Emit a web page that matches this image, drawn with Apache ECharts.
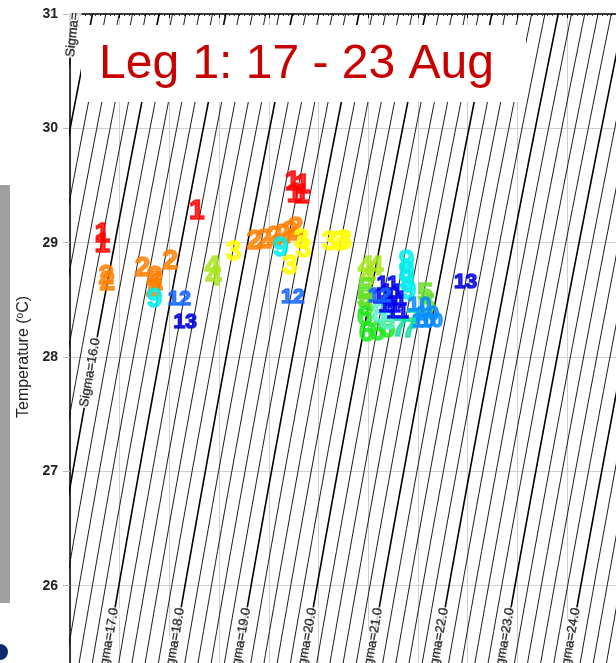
<!DOCTYPE html>
<html>
<head>
<meta charset="utf-8">
<script src="https://cdn.jsdelivr.net/npm/echarts@6/dist/echarts.min.js"></script>
<style>
  html, body { margin: 0; padding: 0; background: #fff; }
  #main { width: 616px; height: 663px; }
</style>
</head>
<body>
<div id="main"></div>
<script>
// station number of each plotted text mark, with its salinity and temperature
const stations = [
  1, 1, 1, 1, 1, 1, 1,
  2, 2, 2, 2, 2, 2, 2, 2, 2, 2, 2, 2, 2,
  3, 3, 3, 3, 3, 3, 3,
  4, 4, 4, 4, 4,
  5, 5, 5, 5, 5,
  6, 6, 6, 6,
  7, 7, 7,
  8, 8,
  9, 9, 9, 9, 9, 9,
  10, 10, 10, 10,
  11, 11, 11, 11, 11, 11,
  12, 12, 12,
  13, 13
];
const salinity = [
  26.66, 26.66, 28.56, 30.49, 30.53, 30.69, 30.67,
  26.74, 26.76, 27.47, 27.71, 27.73, 27.69, 28.03, 29.72, 29.92, 30.12, 30.29, 30.43, 30.55,
  29.30, 30.43, 30.67, 30.71, 31.23, 31.43, 31.53,
  28.88, 28.90, 31.96, 32.16, 32.00,
  31.96, 31.94, 31.96, 33.16, 33.20,
  31.98, 32.20, 32.40, 31.94,
  32.64, 32.84, 32.94,
  32.24, 32.40,
  27.71, 30.25, 32.78, 32.78, 32.78, 32.82,
  33.04, 33.20, 33.28, 33.12,
  32.40, 32.48, 32.56, 32.44, 32.60, 32.32,
  28.21, 30.49, 32.24,
  28.33, 33.97
];
const temperature = [
  29.07, 28.98, 29.27, 29.52, 29.42, 29.50, 29.41,
  28.70, 28.65, 28.77, 28.69, 28.65, 28.60, 28.83, 29.01, 29.02, 29.04, 29.06, 29.09, 29.12,
  28.91, 28.79, 29.02, 28.94, 29.00, 29.00, 29.01,
  28.78, 28.69, 28.78, 28.78, 28.70,
  28.59, 28.50, 28.43, 28.54, 28.45,
  28.20, 28.21, 28.24, 28.34,
  28.25, 28.24, 28.32,
  28.37, 28.31,
  28.50, 28.95, 28.83, 28.74, 28.66, 28.57,
  28.45, 28.37, 28.31, 28.31,
  28.63, 28.56, 28.50, 28.44, 28.39, 28.52,
  28.50, 28.52, 28.53,
  28.30, 28.65
];

// isopycnal (sigma-t) levels drawn behind the data
const sigmaLevels = [
  14.6, 14.8, 15.0, 15.2, 15.4, 15.6, 15.8, 16.0, 16.2, 16.4, 16.6, 16.8,
  17.0, 17.2, 17.4, 17.6, 17.8, 18.0, 18.2, 18.4, 18.6, 18.8,
  19.0, 19.2, 19.4, 19.6, 19.8, 20.0, 20.2, 20.4, 20.6, 20.8,
  21.0, 21.2, 21.4, 21.6, 21.8, 22.0, 22.2, 22.4, 22.6, 22.8,
  23.0, 23.2, 23.4, 23.6, 23.8, 24.0, 24.2, 24.4, 24.6, 24.8, 25.0
];
const labelledLevels = [15, 16, 17, 18, 19, 20, 21, 22, 23, 24];

const stationColors = {
  1: '#ff0000', 2: '#ff8000', 3: '#ffff00', 4: '#a8e61d', 5: '#66e02a',
  6: '#1fe81f', 7: '#12e0a0', 8: '#5ef0d0', 9: '#00eeee', 10: '#0a8cff',
  11: '#0000ee', 12: '#1466ff', 13: '#0000dd'
};

// UNESCO 1980 density at the surface
function rhoWater(t) {
  return 999.842594 + 6.793952e-2 * t - 9.095290e-3 * t * t + 1.001685e-4 * t ** 3
    - 1.120083e-6 * t ** 4 + 6.536332e-9 * t ** 5;
}
function sigmaT(s, t) {
  var A = 8.24493e-1 - 4.0899e-3 * t + 7.6438e-5 * t * t - 8.2467e-7 * t ** 3 + 5.3875e-9 * t ** 4;
  var B = -5.72466e-3 + 1.0227e-4 * t - 1.6546e-6 * t * t;
  var C = 4.8314e-4;
  return rhoWater(t) + A * s + B * Math.pow(s, 1.5) + C * s * s - 1000;
}
function salinityOn(sig, t) {
  var lo = 0, hi = 50;
  for (var i = 0; i < 50; i++) {
    var mid = (lo + hi) / 2;
    if (sigmaT(mid, t) < sig) lo = mid; else hi = mid;
  }
  return (lo + hi) / 2;
}

var FONT = '"Liberation Sans", Arial, Helvetica, sans-serif';
var CLEAR = 'rgba(0,0,0,0)';

var isoSeries = sigmaLevels.map(function (level) {
  var pts = [];
  for (var k = 0; k <= 66; k++) {
    var t = 24.8 + k * 0.1;
    pts.push([salinityOn(level, t), t]);
  }
  var major = Math.abs(level - Math.round(level)) < 1e-6;
  return {
    type: 'line',
    data: pts,
    symbol: 'none',
    silent: true,
    clip: true,
    z: 2,
    lineStyle: { color: '#000', width: major ? 1.6 : 0.9 }
  };
});

function labelTemp(level) {
  if (level === 15) return 30.91;
  if (level === 16) return 27.86;
  return 25.5;
}

var sigmaLabelSeries = {
  type: 'scatter',
  symbolSize: 1,
  itemStyle: { color: CLEAR },
  silent: true,
  clip: false,
  z: 3,
  data: labelledLevels.map(function (level) {
    var t = labelTemp(level);
    return {
      value: [salinityOn(level, t), t],
      label: {
        formatter: 'Sigma=' + level.toFixed(1),
        offset: level === 15 ? [0, -16] : [0, 0],
        rotate: level === 15 ? 84 : 80
      }
    };
  }),
  label: {
    show: true,
    position: [0, 0],
    align: 'center',
    verticalAlign: 'middle',
    fontFamily: FONT,
    fontSize: 13,
    color: '#000',
    textBorderColor: '#000',
    textBorderWidth: 0.3,
    backgroundColor: '#fff',
    padding: [0, 1]
  }
};

var stationSeries = {
  type: 'scatter',
  symbolSize: 1,
  itemStyle: { color: CLEAR },
  clip: false,
  z: 5,
  data: stations.map(function (st, i) {
    return {
      value: [salinity[i], temperature[i]],
      label: {
        formatter: String(st),
        color: stationColors[st],
        textBorderColor: stationColors[st],
        fontSize: st >= 10 ? 21 : 28
      }
    };
  }),
  label: {
    show: true,
    position: [0, 0],
    align: 'center',
    verticalAlign: 'middle',
    textBorderWidth: 1.6,
    fontFamily: FONT,
    fontWeight: 'bold'
  }
};

var chart = echarts.init(document.getElementById('main'));
chart.setOption({
  animation: false,
  grid: { left: 70, top: 14, width: 546.7, height: 686, outerBoundsMode: 'none', containLabel: false },
  xAxis: [
    {
      type: 'value', min: 26, max: 37, interval: 1,
      axisLine: { show: false }, axisTick: { show: false }, axisLabel: { show: false },
      splitLine: { show: true, lineStyle: { color: '#cfcfcf', width: 1 } }
    },
    {
      type: 'value', position: 'top', min: 26, max: 37, interval: 1,
      axisLine: { show: true, lineStyle: { color: '#000', width: 1.5 } },
      axisTick: { show: true, inside: true, length: 4, lineStyle: { color: '#000' } },
      minorTick: { show: true, splitNumber: 10, length: 2, lineStyle: { color: '#333' } },
      axisLabel: { show: false },
      splitLine: { show: false }
    }
  ],
  yAxis: {
    type: 'value', min: 25, max: 31, interval: 1,
    name: 'Temperature ({sup|o}C)',
    nameLocation: 'middle',
    nameGap: 34,
    nameTextStyle: {
      fontFamily: FONT, fontSize: 16, color: '#222',
      rich: { sup: { fontFamily: FONT, fontSize: 10, color: '#222', verticalAlign: 'top', lineHeight: 14 } }
    },
    axisLine: { show: true, lineStyle: { color: '#000', width: 1.5 } },
    axisTick: { show: true, length: 7, lineStyle: { color: '#bbb' } },
    axisLabel: {
      margin: 12, fontFamily: FONT, fontSize: 14, fontWeight: 'bold', color: '#222',
      formatter: function (v) { return v >= 26 ? String(v) : ''; }
    },
    splitLine: { show: true, lineStyle: { color: '#cfcfcf', width: 1 } }
  },
  series: isoSeries.concat([sigmaLabelSeries, stationSeries]),
  graphic: [
    { type: 'rect', z: 100, shape: { x: 62, y: 0, width: 560, height: 13 }, style: { fill: '#fff' } },
    { type: 'rect', z: 100, shape: { x: 81, y: 25, width: 445, height: 77 }, style: { fill: '#fff' } },
    {
      type: 'text', z: 101, x: 99, y: 65,
      style: {
        text: 'Leg 1: 17 - 23 Aug', fill: '#c80000',
        font: '48px ' + FONT, textAlign: 'left', textVerticalAlign: 'middle'
      }
    },
    { type: 'rect', z: 100, shape: { x: 0, y: 185, width: 10, height: 418 }, style: { fill: '#a0a0a0' } },
    { type: 'circle', z: 100, shape: { cx: 0, cy: 652, r: 8 }, style: { fill: '#0a2a6a' } }
  ]
});
</script>
</body>
</html>
